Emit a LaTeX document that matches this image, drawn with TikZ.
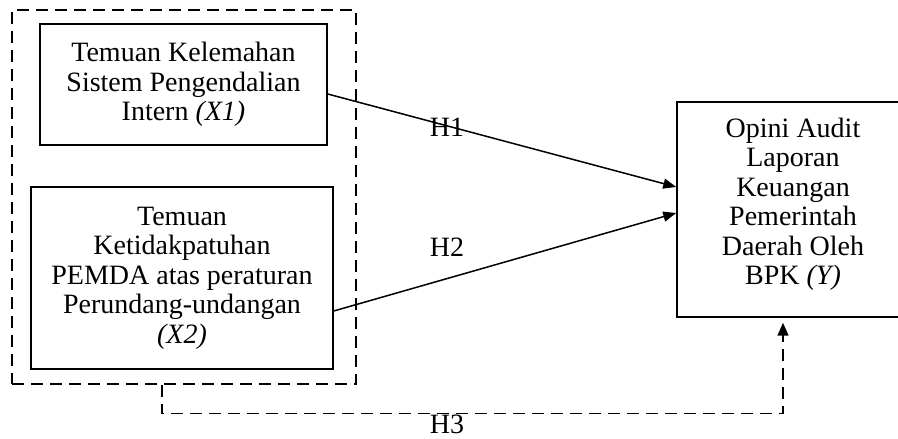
\documentclass[tikz,border=0pt]{standalone}
\usepackage{fontspec}
\setmainfont{Liberation Serif}
\usetikzlibrary{arrows.meta,calc}
\begin{document}
\begin{tikzpicture}[x=1pt,y=1pt,
  box/.style={draw,line width=1.5pt,rectangle,align=center,inner sep=0pt,
    font=\fontsize{28}{29.5}\selectfont},
  grpbox/.style={draw,line width=1.5pt,rectangle,dash pattern=on 12pt off 7pt,inner sep=0pt},
  link/.style={line width=1.5pt,-{Triangle[length=13pt,width=10pt]}},
  dlink/.style={line width=1.5pt,dash pattern=on 12pt off 7pt,-{Triangle[length=13pt,width=11pt]}},
  lbl/.style={font=\fontsize{28}{29.5}\selectfont,inner sep=0pt}]
\useasboundingbox (0,0) rectangle (898,439);

% outer dashed group around the two predictors
\node[grpbox,minimum width=344pt,minimum height=374pt] (grp) at (184,242) {};

% predictor boxes
\node[box,minimum width=287pt,minimum height=121pt] (X1) at (183.5,354.5)
  {Temuan Kelemahan\\Sistem Pengendalian\\Intern \textit{(X1)}};
\node[box,minimum width=302pt,minimum height=182pt] (X2) at (182,161)
  {Temuan\\Ketidakpatuhan\\PEMDA atas peraturan\\Perundang-undangan\\\textit{(X2)}};

% outcome box
\node[box,minimum width=232pt,minimum height=215pt,text depth=16pt] (Y) at (793,229.5)
  {Opini Audit\\Laporan\\Keuangan\\Pemerintah\\Daerah Oleh\\BPK \textit{(Y)}};

% hypothesis paths
\draw[link] ($(X1.east)+(0,-9.5)$) -- ($(Y.west)+(0,22.5)$);
\draw[link] ($(X2.east)+(0,-33)$) -- ($(Y.west)+(0,-3.5)$);
\draw[dlink,shorten >=5pt] ($(grp.south)+(-22,0)$) -- ++(0,-29) -| ($(Y.south)+(-10,0)$);

% hypothesis labels
\node[lbl] (h1) at (447,312) {H1};
\node[lbl] (h2) at (447,192) {H2};
\node[lbl] (h3) at (447,14.5) {H3};
\end{tikzpicture}
\end{document}
